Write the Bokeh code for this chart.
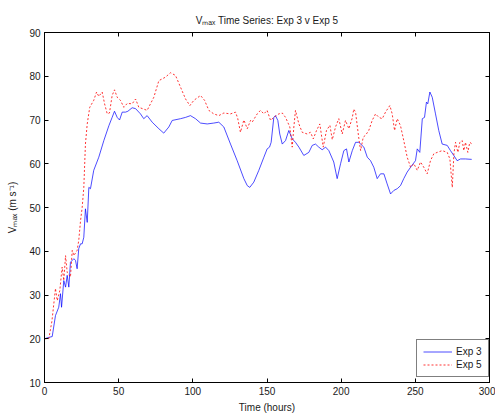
from bokeh.plotting import figure
from bokeh.models import LinearAxis, FixedTicker, Legend, LegendItem, Range1d, Title
from bokeh.embed import file_html
from bokeh.resources import INLINE

# ---- data ----
exp3_hours = [0, 2.7, 5.2, 7.4, 9.6, 10.8, 11.5, 13.0, 14.2, 15.3,
              16.4, 17.5, 19.8, 20.9, 22.0, 23.1, 24.3, 25.4, 26.5, 27.6,
              28.8, 29.9, 31.0, 33.2, 36.6, 40.0, 43.4, 45.6, 47.2, 49.0,
              50.6, 52.4, 54.6, 56.2, 59.1, 61.4, 64.7, 66.9, 69.2, 72.6,
              77.1, 80.4, 83.8, 86.1, 91.7, 95.1, 98.4, 101.8, 105.2, 109.7,
              114.1, 117.5, 120.9, 125.4, 129.9, 134.4, 136.7, 138.4, 141.1, 144.5,
              147.9, 150.1, 151.7, 152.8, 154.6, 155.7, 157.3, 158.6, 160.3, 162.5,
              164.7, 167.0, 169.2, 171.5, 174.8, 178.2, 180.5, 182.7, 184.9, 187.2,
              189.5, 191.7, 195.0, 197.3, 199.6, 201.8, 203.6, 205.2, 207.5, 209.7,
              211.9, 215.3, 217.6, 219.8, 222.0, 224.3, 226.5, 228.8, 231.0, 233.3,
              235.5, 237.8, 240.0, 242.2, 244.5, 246.8, 250.1, 251.3, 253.0, 254.7,
              256.2, 257.5, 258.4, 259.8, 261.4, 263.6, 265.8, 268.1, 271.5, 273.7,
              275.9, 278.2, 280.5, 283.8, 288.0]
exp3_vmax = [20, 20.3, 20.5, 25.3, 27.2, 30.3, 27.2, 33.3, 31.8, 34.5,
             31.8, 37.5, 38.3, 37.9, 36.0, 40.6, 41.7, 41.7, 43.2, 49.7,
             46.6, 54.6, 54.3, 58.5, 61.5, 65.3, 68.7, 70.6, 72.0, 70.6,
             70.0, 71.8, 71.8, 72.0, 72.8, 72.6, 71.4, 70.3, 71.0, 69.5,
             68.0, 67.0, 68.4, 69.9, 70.3, 70.6, 71.0, 70.3, 69.3, 69.1,
             69.3, 69.5, 68.4, 64.5, 60.7, 56.6, 55.0, 54.6, 55.8, 58.5,
             61.5, 63.4, 63.8, 64.9, 70.6, 71.0, 69.9, 66.8, 64.5, 65.3,
             67.6, 65.7, 64.9, 63.8, 61.9, 62.6, 64.2, 64.5, 63.8, 63.2,
             63.8, 63.0, 60.4, 56.6, 60.0, 63.0, 63.4, 60.4, 63.0, 64.9,
             64.9, 63.8, 61.5, 60.7, 59.2, 56.6, 57.7, 57.7, 55.4, 53.1,
             53.9, 54.3, 55.0, 56.6, 58.1, 59.2, 60.7, 63.4, 62.6, 70.3,
             70.6, 74.1, 73.7, 76.4, 75.2, 71.4, 67.6, 64.5, 64.2, 63.0,
             61.9, 60.7, 61.1, 61.1, 61.0]

exp5_hours = [0, 2.9, 5.0, 7.4, 8.6, 10.3, 11.9, 13.0, 14.2, 15.3,
              17.5, 18.7, 19.8, 22.0, 23.1, 24.3, 25.4, 26.5, 27.6, 28.8,
              30.5, 33.2, 35.1, 36.6, 38.9, 40.5, 42.3, 43.8, 45.6, 47.2,
              49.0, 51.2, 53.5, 55.8, 59.1, 61.4, 63.6, 69.2, 73.7, 77.1,
              81.6, 84.9, 88.3, 91.7, 95.1, 98.0, 100.7, 105.2, 107.9, 110.8,
              114.1, 117.5, 120.9, 125.4, 128.8, 130.3, 132.1, 134.4, 136.7, 138.9,
              140.0, 143.4, 145.6, 147.9, 150.1, 152.4, 154.6, 158.0, 160.3, 162.5,
              165.4, 167.0, 168.1, 169.2, 171.5, 173.7, 177.1, 179.3, 181.2, 183.4,
              185.6, 187.9, 190.1, 192.4, 194.0, 196.2, 198.4, 200.7, 202.9, 205.2,
              207.5, 208.5, 209.7, 211.9, 213.1, 214.9, 216.4, 218.6, 220.9, 223.2,
              225.4, 227.7, 229.9, 232.8, 234.4, 236.0, 237.8, 240.0, 242.2, 244.5,
              246.8, 249.0, 251.3, 253.5, 255.7, 258.0, 260.2, 262.5, 264.8, 268.1,
              271.5, 273.3, 274.9, 276.0, 277.1, 278.7, 280.0, 281.6, 282.7, 283.8,
              285.4, 286.7, 288.3]
exp5_vmax = [20, 20, 24, 31.5, 28.7, 31, 36.4, 33.3, 39, 35.2,
             34.1, 40.2, 39, 40.2, 42.5, 47, 50, 54.6, 64.5, 69.1,
             72.9, 74.5, 76.4, 75.4, 76.4, 73.7, 71.4, 71.6, 75.6, 76.9,
             75.2, 74.5, 72.9, 73.8, 73.7, 74.8, 72.9, 72.2, 75.2, 79,
             79.8, 80.8, 80.2, 77.5, 74.8, 73.3, 74.5, 75.6, 74.5, 72.2,
             71.4, 71, 71.6, 71.4, 71.8, 70.3, 67.2, 70, 68, 69.9,
             69.5, 71.4, 72.2, 71.4, 72.2, 69.9, 70.6, 71.4, 71.6, 70.6,
             68.4, 63.8, 68.4, 72.2, 69.1, 67.2, 66.8, 67.2, 65.7, 67.6,
             69.1, 63.8, 67.6, 68.8, 65.5, 68.4, 70.3, 66.8, 69.9, 68,
             70.5, 72.5, 71.8, 65.8, 63, 66.1, 66.5, 67.6, 69.9, 71.4,
             70.6, 70.3, 71.8, 73.3, 71.4, 67.6, 70.3, 68.7, 65.3, 61.5,
             59.2, 60, 58.5, 60.4, 59.2, 57.7, 60.7, 62.3, 62.6, 63,
             62.6, 61.1, 54.6, 62.3, 64.9, 62.6, 64.9, 65.3, 63, 64.9,
             62.6, 64.9, 64.5]

x_ticks = [0, 50, 100, 150, 200, 250, 300]
y_ticks = [10, 20, 30, 40, 50, 60, 70, 80, 90]
series_names = ["Exp 3", "Exp 5"]
title_text = "V\u2098\u2090\u2093 Time Series: Exp 3 v Exp 5"
x_label = "Time (hours)"
y_label = "V\u2098\u2090\u2093 (m s\u207b\u00b9)"

FONT = "Liberation Sans"
TXT = "#1a1a1a"

p = figure(width=495, height=415, x_range=Range1d(0, 300), y_range=Range1d(10, 90),
           output_backend="svg", toolbar_location=None,
           min_border_left=44, min_border_right=6, min_border_top=32, min_border_bottom=33,
           x_axis_type=None, y_axis_type=None)
p.title = Title(text=title_text, align="center", text_font=FONT, text_font_size="10px",
                text_font_style="normal", text_color=TXT, standoff=14)
p.background_fill_color = "white"
p.border_fill_color = "white"
p.outline_line_color = "black"
p.outline_line_width = 1
p.xgrid.visible = False
p.ygrid.visible = False


def style_axis(ax, show_labels):
    ax.axis_line_color = "black"
    ax.major_tick_line_color = "black"
    ax.major_tick_in = 4
    ax.major_tick_out = 0
    ax.minor_tick_line_color = None
    ax.major_label_text_font = FONT
    ax.major_label_text_color = TXT
    ax.major_label_text_font_size = "10px"
    ax.axis_label_text_font = FONT
    ax.axis_label_text_font_size = "10px"
    ax.axis_label_text_font_style = "normal"
    ax.axis_label_text_color = TXT
    if show_labels:
        ax.major_label_standoff = 4
    else:
        ax.major_label_standoff = 0
        ax.major_label_overrides = {t: "" for t in ax.ticker.ticks}


xb = LinearAxis(ticker=FixedTicker(ticks=x_ticks), axis_label=x_label, axis_label_standoff=4)
style_axis(xb, True)
p.add_layout(xb, "below")
xt = LinearAxis(ticker=FixedTicker(ticks=x_ticks))
style_axis(xt, False)
p.add_layout(xt, "above")
yl = LinearAxis(ticker=FixedTicker(ticks=y_ticks), axis_label=y_label, axis_label_standoff=8)
style_axis(yl, True)
p.add_layout(yl, "left")
yr = LinearAxis(ticker=FixedTicker(ticks=y_ticks))
style_axis(yr, False)
p.add_layout(yr, "right")

r3 = p.line(exp3_hours, exp3_vmax, line_color="#0000ff", line_width=1, line_alpha=0.7)
r5 = p.line(exp5_hours, exp5_vmax, line_color="#ff0000", line_width=1, line_alpha=0.8,
            line_dash="2 2")

legend = Legend(items=[LegendItem(label=series_names[0], renderers=[r3]),
                       LegendItem(label=series_names[1], renderers=[r5])],
                location=(372, 5))
legend.border_line_color = "black"
legend.border_line_width = 1
legend.background_fill_color = "white"
legend.background_fill_alpha = 1
legend.padding = 6
legend.margin = 0
legend.spacing = 2
legend.glyph_width = 29
legend.glyph_height = 11
legend.label_height = 11
legend.label_standoff = 4
legend.label_text_font = FONT
legend.label_text_font_size = "10px"
legend.label_text_color = TXT
p.add_layout(legend, "center")

open("out.html", "w").write(file_html(p, INLINE))
